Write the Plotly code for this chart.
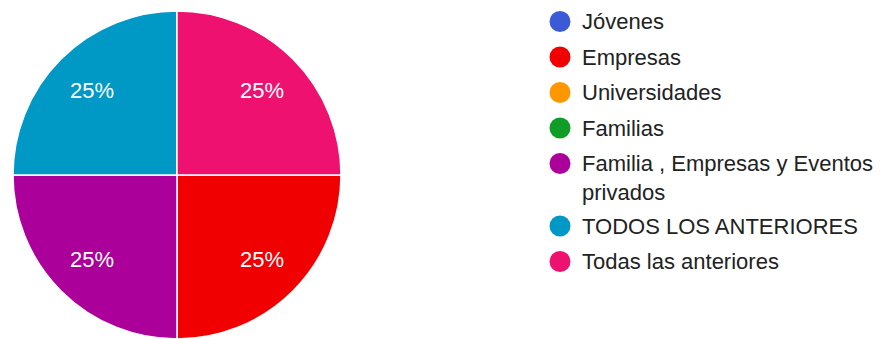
import math
import plotly.graph_objects as go

# Response categories, counts and colours
categories = [
    "Jóvenes",
    "Empresas",
    "Universidades",
    "Familias",
    "Familia , Empresas y Eventos privados",
    "TODOS LOS ANTERIORES",
    "Todas las anteriores",
]
counts = [0, 1, 0, 0, 1, 1, 1]
colors = ["#3b5bd6", "#f00000", "#ff9800", "#0f9d28", "#ab0099", "#0099c6", "#ef1170"]
# Legend labels as wrapped in the legend column
legend_labels = [
    "Jóvenes",
    "Empresas",
    "Universidades",
    "Familias",
    "Familia , Empresas y Eventos<br>privados",
    "TODOS LOS ANTERIORES",
    "Todas las anteriores",
]

W, H = 885, 339
FONT = "Arial, Liberation Sans, sans-serif"
FS = 22

# Pie geometry in pixels
pie_x0, pie_x1 = 13, 341
pie_top, pie_bottom = 11, 339
cx = (pie_x0 + pie_x1) / 2
cy = (pie_top + pie_bottom) / 2
radius = (pie_bottom - pie_top) / 2
start_deg = 90  # first slice starts at 3 o'clock, running clockwise

fig = go.Figure()

fig.add_trace(go.Pie(
    labels=categories,
    values=counts,
    marker=dict(colors=colors, line=dict(color="white", width=1.5)),
    sort=False,
    direction="clockwise",
    rotation=start_deg,
    textinfo="none",
    showlegend=False,
    hoverinfo="label+percent",
    domain=dict(x=[pie_x0 / W, pie_x1 / W], y=[1 - pie_bottom / H, 1 - pie_top / H]),
))

# Percentage labels placed at each slice's mid-angle
total = sum(counts)
acc = 0
for c in counts:
    if c > 0:
        mid = acc + c / 2
        # angle measured clockwise from 12 o'clock
        ang = math.radians(start_deg + 360 * mid / total)
        lx = cx + 0.73 * radius * math.sin(ang)
        ly = cy - 0.73 * radius * math.cos(ang)
        fig.add_annotation(
            x=lx, y=ly, xref="x", yref="y",
            text=f"{round(100 * c / total)}%", showarrow=False,
            xanchor="center", yanchor="middle",
            font=dict(family=FONT, size=FS, color="white"),
        )
    acc += c

# Legend column laid out in pixel units on a hidden axis pair
row_gap = 35.5
wrap_gap = 27
y_rows = []
y = 21.5
for lab in legend_labels:
    y_rows.append(y)
    y += row_gap + wrap_gap * lab.count("<br>")

fig.add_trace(go.Scatter(
    x=[560] * len(categories),
    y=y_rows,
    mode="markers",
    marker=dict(size=21, color=colors, line=dict(width=0)),
    hoverinfo="skip",
    showlegend=False,
))

for lab, yy in zip(legend_labels, y_rows):
    n_lines = lab.count("<br>") + 1
    fig.add_annotation(
        x=580, y=yy, xref="x", yref="y",
        text=lab, showarrow=False,
        xanchor="left", yanchor="middle" if n_lines == 1 else "top",
        yshift=0 if n_lines == 1 else FS * 0.65,
        align="left",
        font=dict(family=FONT, size=FS, color="#222222"),
    )

fig.update_layout(
    width=W, height=H,
    margin=dict(l=0, r=0, t=0, b=0),
    paper_bgcolor="white",
    plot_bgcolor="rgba(0,0,0,0)",
    xaxis=dict(range=[0, W], visible=False, fixedrange=True),
    yaxis=dict(range=[H, 0], visible=False, fixedrange=True),
)

fig.write_html("out.html")
